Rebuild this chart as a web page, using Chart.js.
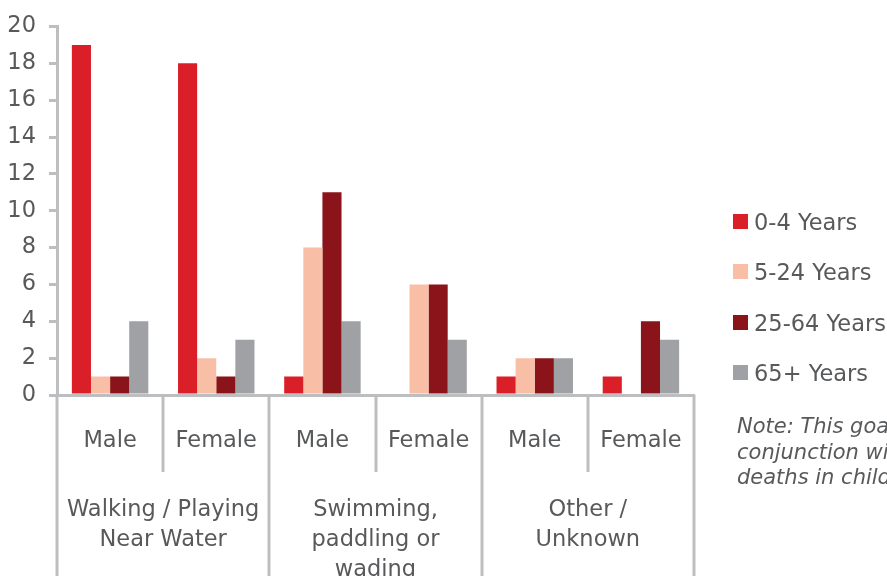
<!DOCTYPE html>
<html lang="en">
<head>
    <meta charset="UTF-8">
    <title>Drowning deaths by activity, sex and age</title>
    <script src="https://cdn.jsdelivr.net/npm/chart.js"></script>
    <style>
        body { margin: 0; background: #fff; }
        #wrap { position: relative; width: 887px; height: 576px; overflow: hidden; font-family: "DejaVu Sans", sans-serif; color: #58595B; }
        #legend { position: absolute; left: 733px; top: 208px; }
        .item { height: 50.3px; white-space: nowrap; font-size: 22.5px; line-height: 28px; }
        .item span.box { display: inline-block; width: 15px; height: 15px; margin-right: 6px; vertical-align: 1px; }
        #note { position: absolute; left: 737px; top: 414px; font-style: italic; font-size: 21px; line-height: 25.5px; white-space: nowrap; }
    </style>
</head>
<body>
<div id="wrap">
    <canvas id="chart" width="887" height="576"></canvas>
    <div id="legend"></div>
    <div id="note">Note: This goal should be read in<br>conjunction with the data on<br>deaths in children</div>
</div>
<script>
    // categories (inner level = sex, outer level = activity)
    const sexLabels = ['Male', 'Female', 'Male', 'Female', 'Male', 'Female'];
    const activityLabels = [
        ['Walking / Playing', 'Near Water'],
        ['Swimming,', 'paddling or', 'wading'],
        ['Other /', 'Unknown']
    ];

    const seriesNames = ['0-4 Years', '5-24 Years', '25-64 Years', '65+ Years'];
    const age0to4 = [19, 18, 1, 0, 1, 1];
    const age5to24 = [1, 2, 8, 6, 2, 0];
    const age25to64 = [1, 1, 11, 6, 2, 4];
    const age65plus = [4, 3, 4, 3, 2, 3];
    const colors = ['#DA1F29', '#F9BEA6', '#8A1419', '#A0A1A4'];

    const yTicks = { min: 0, max: 20, step: 2 };

    const axisGrey = '#BDBEC0';
    Chart.defaults.color = '#58595B';
    Chart.defaults.font.family = '"DejaVu Sans", sans-serif';
    Chart.defaults.font.size = 22.5;

    // separators between the sex and activity groups
    const separators = {
        id: 'separators',
        afterDraw(chart) {
            const xs = chart.scales.x;
            const ctx = chart.ctx;
            const w = (xs.right - xs.left) / sexLabels.length;
            ctx.save();
            ctx.strokeStyle = axisGrey;
            ctx.lineWidth = 3;
            for (let i = 0; i <= sexLabels.length; i++) {
                const px = i < sexLabels.length ? xs.getPixelForValue(i) - w / 2 : xs.getPixelForValue(i - 1) + w / 2;
                const bottom = i % 2 === 0 ? chart.height : xs.top + 77;
                ctx.beginPath();
                ctx.moveTo(Math.round(px), xs.top);
                ctx.lineTo(Math.round(px), bottom);
                ctx.stroke();
            }
            ctx.restore();
        }
    };

    const dataSets = [age0to4, age5to24, age25to64, age65plus].map((d, i) => ({
        label: seriesNames[i],
        data: d,
        backgroundColor: colors[i],
        borderWidth: 0,
        categoryPercentage: 0.72,
        barPercentage: 1.0
    }));

    new Chart(document.getElementById('chart'), {
        type: 'bar',
        data: { labels: sexLabels, datasets: dataSets },
        options: {
            responsive: false,
            animation: false,
            layout: { padding: { top: 24, right: 193, left: 0, bottom: 0 } },
            plugins: { legend: { display: false }, tooltip: { enabled: false } },
            scales: {
                x: {
                    weight: 0,
                    grid: { display: false, drawTicks: false },
                    border: { display: true, color: axisGrey, width: 3 },
                    ticks: { padding: 33, maxRotation: 0, autoSkip: false },
                    afterFit: (s) => { s.height = 80; }
                },
                x2: {
                    type: 'category',
                    labels: activityLabels,
                    position: 'bottom',
                    weight: 1,
                    offset: true,
                    grid: { display: false, drawTicks: false },
                    border: { display: false },
                    ticks: { padding: 20, maxRotation: 0, autoSkip: false, font: { lineHeight: 30 / 22.5 } },
                    afterFit: (s) => { s.height = 101; }
                },
                y: {
                    min: yTicks.min,
                    max: yTicks.max,
                    ticks: { stepSize: yTicks.step, padding: 13 },
                    grid: { drawOnChartArea: false, drawTicks: true, tickLength: 8, color: axisGrey, lineWidth: 3 },
                    border: { display: true, color: axisGrey, width: 3 },
                    afterFit: (s) => { s.width = 57; }
                }
            }
        },
        plugins: [separators]
    });

    // legend built from the series
    const legend = document.getElementById('legend');
    seriesNames.forEach((name, i) => {
        const row = document.createElement('div');
        row.className = 'item';
        row.innerHTML = '<span class="box" style="background:' + colors[i] + '"></span>' + name;
        legend.appendChild(row);
    });
</script>
</body>
</html>
